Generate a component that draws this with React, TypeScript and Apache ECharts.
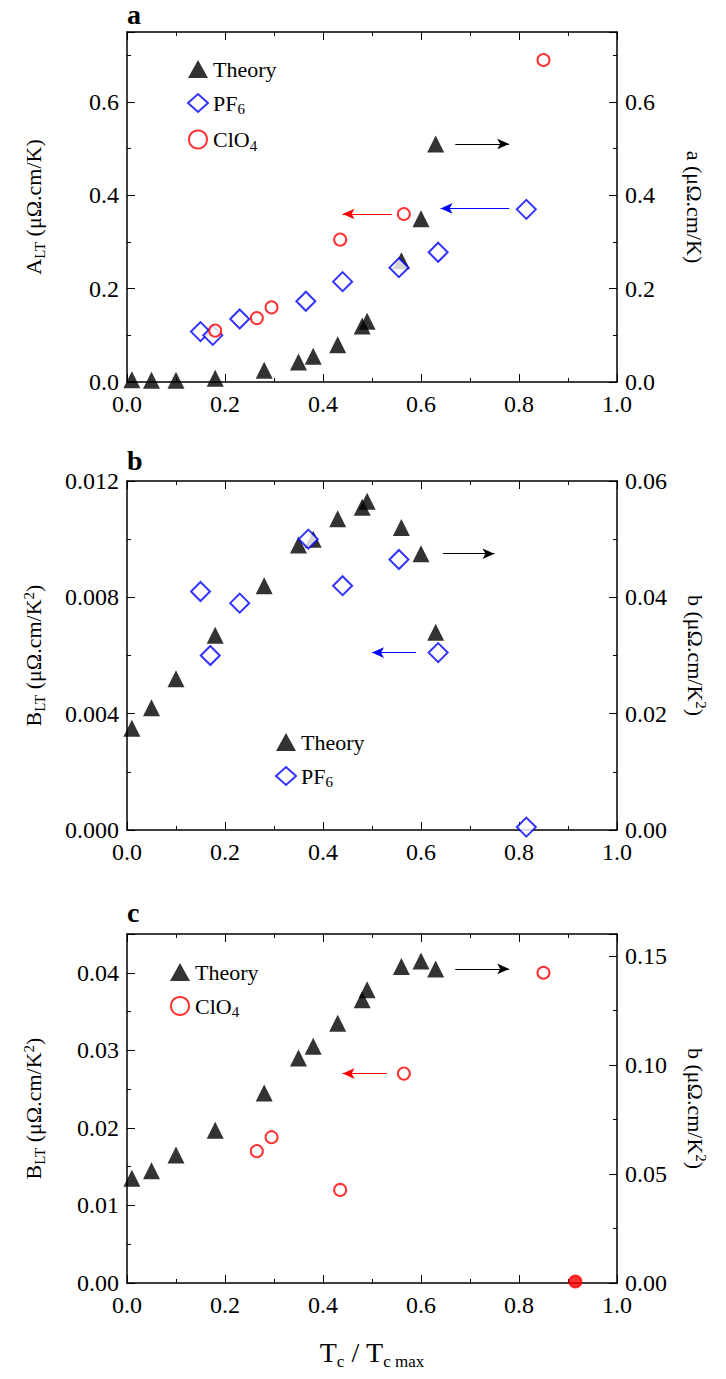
import React, { useEffect, useRef } from 'react';
import * as echarts from 'echarts';

// panel a
const aTheory = [[0.01, 0.005], [0.05, 0.004], [0.1, 0.004], [0.18, 0.008], [0.28, 0.025], [0.35, 0.043], [0.38, 0.055], [0.43, 0.08], [0.48, 0.12], [0.49, 0.13], [0.56, 0.26], [0.6, 0.35], [0.63, 0.51]];
const aPF6 = [[0.15, 0.108], [0.175, 0.1], [0.23, 0.135], [0.365, 0.173], [0.44, 0.215], [0.555, 0.245], [0.635, 0.278], [0.815, 0.37]];
const aClO4 = [[0.18, 0.11], [0.265, 0.137], [0.295, 0.16], [0.435, 0.305], [0.565, 0.36], [0.85, 0.69]];
// panel b (theory on right axis)
const bTheory = [[0.01, 0.0175], [0.05, 0.021], [0.1, 0.026], [0.18, 0.0335], [0.28, 0.042], [0.35, 0.049], [0.38, 0.05], [0.43, 0.0535], [0.48, 0.0555], [0.49, 0.0565], [0.56, 0.052], [0.6, 0.0475], [0.63, 0.034]];
const bPF6 = [[0.15, 0.0082], [0.17, 0.006], [0.23, 0.0078], [0.37, 0.01], [0.44, 0.0084], [0.555, 0.0093], [0.635, 0.0061], [0.815, 0.0001]];
// panel c (theory on right axis)
const cTheory = [[0.01, 0.048], [0.05, 0.0515], [0.1, 0.0587], [0.18, 0.07], [0.28, 0.0871], [0.35, 0.1031], [0.38, 0.1085], [0.43, 0.1191], [0.48, 0.1298], [0.49, 0.1344], [0.56, 0.1451], [0.6, 0.1476], [0.63, 0.144]];
const cClO4 = [[0.265, 0.017], [0.295, 0.0188], [0.435, 0.012], [0.565, 0.027], [0.85, 0.04]];
const cClO4Zero = [[0.915, 0.0002]];
const xTicks = [0, 0.2, 0.4, 0.6, 0.8, 1.0];

const FONT = "'Liberation Serif', 'DejaVu Serif', serif";
const rich = {
  n: { fontFamily: FONT, fontSize: 22, color: '#000' },
  s: { fontFamily: FONT, fontSize: 15, color: '#000', padding: [12, 0, 0, 0] },
  p: { fontFamily: FONT, fontSize: 15, color: '#000', padding: [0, 0, 10, 0] },
};

export default function App() {
  const ref = useRef<HTMLDivElement>(null);

  useEffect(() => {
    if (!ref.current) return;
    const chart = echarts.init(ref.current, null, { renderer: 'svg' });

    const grids = [
      { left: 127, right: 109, top: 32, height: 350 },
      { left: 127, right: 109, top: 481, height: 349 },
      { left: 127, right: 109, top: 934, height: 349 },
    ];
    const tick = { show: true, inside: true, length: 8, lineStyle: { color: '#000' } };
    const minor = { show: true, splitNumber: 2, length: 4, lineStyle: { color: '#000' } };
    const line = { show: true, onZero: false, lineStyle: { color: '#000', width: 1.5 } };
    const lab = (d: number) => ({ fontFamily: FONT, fontSize: 24, color: '#000', formatter: (v: number) => v.toFixed(d) });

    const xAxis: any[] = [];
    grids.forEach((_, i) => {
      xAxis.push({ gridIndex: i, type: 'value', min: 0, max: 1, interval: 0.2, axisLine: line, axisTick: tick, minorTick: { ...minor, inside: true }, splitLine: { show: false }, axisLabel: { ...lab(1), formatter: (v: number) => (xTicks.includes(v) ? v.toFixed(1) : '') , margin: 10 },
        ...(i === 2 ? { name: '{n|T}{s|c}{n| / T}{s|c max}', nameLocation: 'middle', nameGap: 52, nameTextStyle: { rich: { n: { ...rich.n, fontSize: 28 }, s: { ...rich.s, fontSize: 17, padding: [18, 0, 0, 0] } } } } : {}) });
      xAxis.push({ gridIndex: i, type: 'value', position: 'top', min: 0, max: 1, interval: 0.2, axisLine: line, axisTick: tick, minorTick: minor, axisLabel: { show: false }, splitLine: { show: false } });
    });

    const yAx = (g: number, pos: string, max: number, interval: number, d: number, name: string) => ({
      gridIndex: g, type: 'value', position: pos, min: 0, max, interval,
      axisLine: line, axisTick: tick, minorTick: minor, splitLine: { show: false },
      axisLabel: { ...lab(d), showMaxLabel: max / interval === Math.round(max / interval), margin: 8 },
      name, nameLocation: 'middle', nameRotate: pos === 'left' ? 90 : -90, nameGap: pos === 'left' ? 80 : 66,
      nameTextStyle: { rich },
    });
    const yAxis = [
      yAx(0, 'left', 0.75, 0.2, 1, '{n|A}{s|LT}{n| (μΩ.cm/K)}'),
      yAx(0, 'right', 0.75, 0.2, 1, '{n|a (μΩ.cm/K)}'),
      yAx(1, 'left', 0.012, 0.004, 3, '{n|B}{s|LT}{n| (μΩ.cm/K}{p|2}{n|)}'),
      yAx(1, 'right', 0.06, 0.02, 2, '{n|b (μΩ.cm/K}{p|2}{n|)}'),
      yAx(2, 'left', 0.045, 0.01, 2, '{n|B}{s|LT}{n| (μΩ.cm/K}{p|2}{n|)}'),
      yAx(2, 'right', 0.16, 0.05, 2, '{n|b (μΩ.cm/K}{p|2}{n|)}'),
    ];

    const tri = (name: string, data: number[][], g: number, y: number) => ({ name, type: 'scatter', xAxisIndex: g * 2, yAxisIndex: y, data, symbol: 'triangle', symbolSize: 17, itemStyle: { color: '#000' } });
    const dia = (name: string, data: number[][], g: number, y: number) => ({ name, type: 'scatter', xAxisIndex: g * 2, yAxisIndex: y, data, symbol: 'diamond', symbolSize: 19, itemStyle: { color: '#fff', borderColor: '#0000ff', borderWidth: 2 } });
    const cir = (name: string, data: number[][], g: number, y: number) => ({ name, type: 'scatter', xAxisIndex: g * 2, yAxisIndex: y, data, symbol: 'circle', symbolSize: 12, itemStyle: { color: '#fff', borderColor: '#ff0000', borderWidth: 2 } });
    const arrow = (color: string, x0: number, x1: number, y: number) => ({
      silent: true, symbol: ['none', 'arrow'], symbolSize: [8, 12], label: { show: false },
      lineStyle: { color, width: 1.2, type: 'solid' }, data: [[{ coord: [x0, y] }, { coord: [x1, y] }]],
    });

    const series: any[] = [
      { ...tri('Theory', aTheory, 0, 1), markLine: arrow('#000', 0.67, 0.78, 0.51) },
      { ...dia('PF6', aPF6, 0, 0), markLine: arrow('#0000ff', 0.78, 0.64, 0.372) },
      { ...cir('ClO4', aClO4, 0, 0), markLine: arrow('#ff0000', 0.54, 0.44, 0.36) },
      { ...tri('Theory ', bTheory, 1, 3), markLine: arrow('#000', 0.645, 0.75, 0.0475) },
      { ...dia('PF6 ', bPF6, 1, 2), markLine: arrow('#0000ff', 0.59, 0.5, 0.0061) },
      { ...tri('Theory  ', cTheory, 2, 5), markLine: arrow('#000', 0.67, 0.78, 0.144) },
      { ...cir('ClO4  ', cClO4, 2, 4), markLine: arrow('#ff0000', 0.53, 0.44, 0.027) },
      { name: 'ClO4 zero', type: 'scatter', xAxisIndex: 4, yAxisIndex: 4, data: cClO4Zero, symbol: 'circle', symbolSize: 12, itemStyle: { color: '#ff0000', borderColor: '#ff0000', borderWidth: 2 } },
    ];

    const names: Record<string, string> = { Theory: '{n|Theory}', PF6: '{n|PF}{s|6}', ClO4: '{n|ClO}{s|4}' };
    const leg = (data: string[], left: number, top: number) => ({
      data, left, top, orient: 'vertical', itemGap: 12, itemWidth: 20, itemHeight: 18, selectedMode: false,
      formatter: (n: string) => names[n.trim()], textStyle: { rich },
    });

    chart.setOption({
      animation: false,
      grid: grids,
      xAxis,
      yAxis,
      series,
      legend: [
        leg(['Theory', 'PF6', 'ClO4'], 182, 53),
        leg(['Theory ', 'PF6 '], 270, 726),
        leg(['Theory  ', 'ClO4  '], 165, 956),
      ],
      graphic: [
        { type: 'text', left: 127, top: 0, style: { text: 'a', font: `bold 28px ${FONT}`, fill: '#000' } },
        { type: 'text', left: 127, top: 446, style: { text: 'b', font: `bold 28px ${FONT}`, fill: '#000' } },
        { type: 'text', left: 127, top: 898, style: { text: 'c', font: `bold 28px ${FONT}`, fill: '#000' } },
      ],
    });
    return () => chart.dispose();
  }, []);

  return <div ref={ref} style={{ width: 726, height: 1379, margin: -8 }} />;
}
